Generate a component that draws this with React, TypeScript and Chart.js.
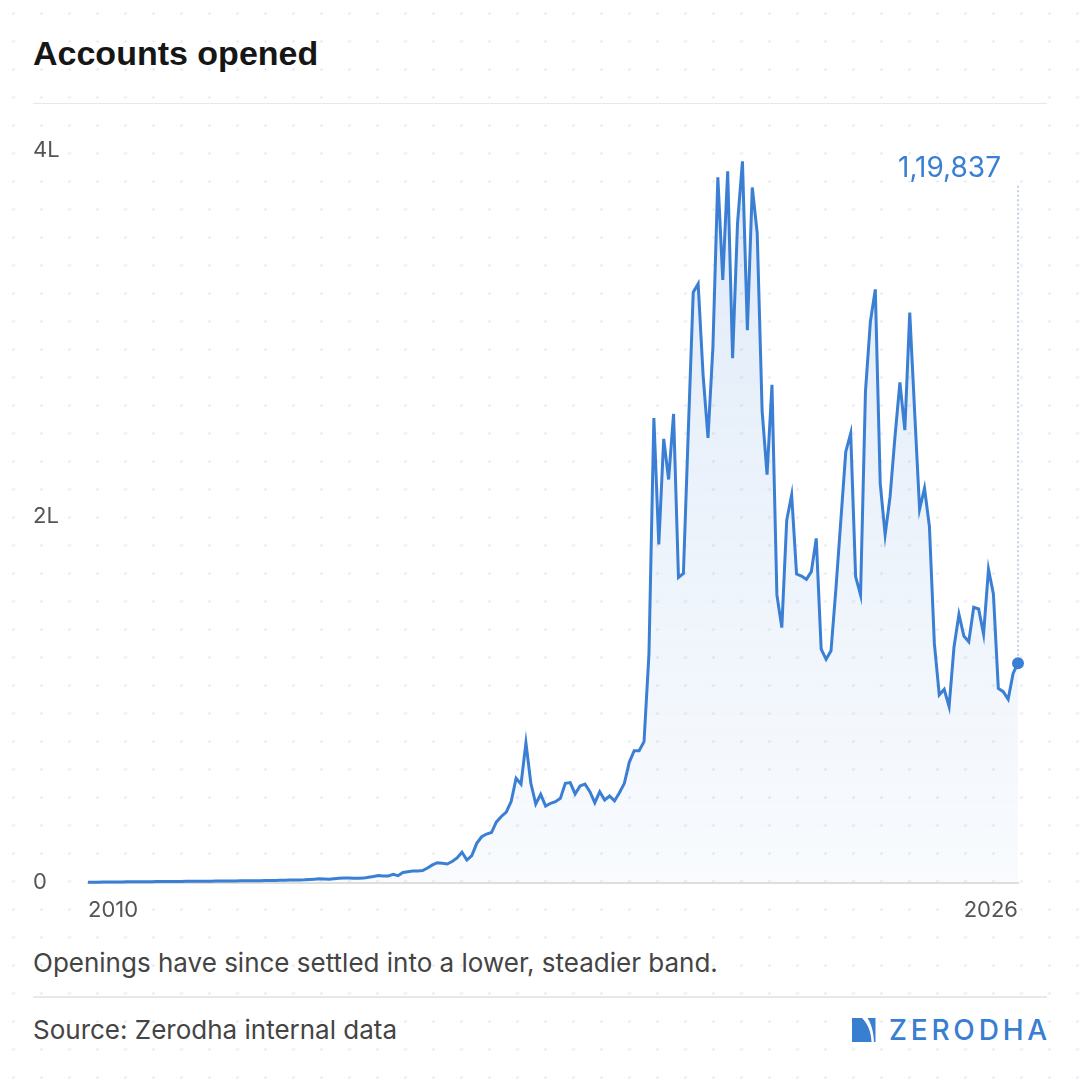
import React, { useEffect, useRef } from 'react';
import { Chart, registerables } from 'chart.js';

Chart.register(...registerables);

// Monthly accounts opened, Jan 2010 onwards
const accountsOpened: number[] = [
  150, 180, 200, 230, 260, 280, 300, 330, 350, 380,
  400, 420, 450, 470, 500, 520, 540, 560, 590, 610,
  640, 660, 680, 700, 720, 750, 770, 800, 830, 850,
  880, 900, 930, 960, 990, 1020, 1060, 1100, 1150, 1200,
  1250, 1300, 1350, 1400, 1450, 1600, 1800, 2050, 1900, 1750,
  2000, 2300, 2450, 2400, 2350, 2300, 2400, 2900, 3300, 3800,
  3600, 3500, 4500, 3700, 5500, 5900, 6300, 6300, 6500, 7900,
  9600, 10800, 10500, 10100, 11500, 13400, 16500, 12300, 14700, 21400,
  25000, 26500, 27300, 33100, 36100, 38500, 44300, 57000, 53800, 76400,
  54200, 42900, 48200, 41800, 43300, 44200, 46000, 54200, 54600, 48400,
  52800, 53800, 49600, 43600, 49600, 45100, 47300, 44600, 49100, 54200,
  65700, 72000, 72000, 77000, 124800, 253900, 184800, 242500, 220300, 256100,
  166700, 168900, 247000, 322600, 327200, 277500, 243000, 292700, 385400, 329300,
  388700, 286600, 360300, 394200, 301900, 379900, 354900, 257800, 222900, 272000,
  157200, 139300, 198100, 211800, 168600, 167500, 165700, 169900, 188100, 127500,
  122000, 126700, 160800, 198100, 235500, 245500, 167200, 157100, 268300, 306500,
  324200, 218200, 190000, 210900, 243700, 273400, 247300, 311500, 257000, 204000,
  215500, 194500, 130700, 102500, 105600, 96100, 128900, 146600, 134700, 131600,
  150400, 149500, 135800, 171200, 157700, 106100, 104300, 100100, 114300, 119837,
];

const xTickLabels = ['2010', '2026'];
const yTickValues = [0, 200000, 400000];
const yTickLabels = ['0', '2L', '4L'];
const lastValueLabel = '1,19,837';

const BLUE = '#3a7fd4';

export default function App() {
  const canvasRef = useRef<HTMLCanvasElement>(null);

  useEffect(() => {
    document.body.style.margin = '0';
    const canvas = canvasRef.current;
    if (!canvas) return;
    const lastIdx = accountsOpened.length - 1;

    const markerPlugin = {
      id: 'lastMarker',
      beforeDatasetsDraw(chart: any) {
        const pt = chart.getDatasetMeta(0).data[lastIdx];
        if (!pt) return;
        const ctx = chart.ctx;
        ctx.save();
        ctx.strokeStyle = '#a8c3e8';
        ctx.lineWidth = 1.5;
        ctx.setLineDash([2, 2.5]);
        ctx.beginPath();
        ctx.moveTo(pt.x, chart.chartArea.top + 35);
        ctx.lineTo(pt.x, pt.y);
        ctx.stroke();
        ctx.restore();
      },
      afterDatasetsDraw(chart: any) {
        const pt = chart.getDatasetMeta(0).data[lastIdx];
        if (!pt) return;
        const ctx = chart.ctx;
        ctx.save();
        ctx.fillStyle = BLUE;
        ctx.font = '28px Inter';
        ctx.textAlign = 'right';
        ctx.textBaseline = 'alphabetic';
        ctx.fillText(lastValueLabel, pt.x - 17, chart.chartArea.top + 26);
        ctx.restore();
      },
    };

    const chart = new Chart(canvas, {
      type: 'line',
      data: {
        datasets: [
          {
            data: accountsOpened.map((v, i) => ({ x: i, y: v })),
            borderColor: BLUE,
            borderWidth: 3,
            tension: 0,
            fill: 'origin',
            clip: false as any,
            backgroundColor: (c: any) => {
              const area = c.chart.chartArea;
              if (!area) return 'rgba(58,128,214,0.08)';
              const g = c.chart.ctx.createLinearGradient(0, area.top, 0, area.bottom);
              g.addColorStop(0, 'rgba(58,128,214,0.16)');
              g.addColorStop(1, 'rgba(58,128,214,0.03)');
              return g;
            },
            pointRadius: (c: any) => (c.dataIndex === lastIdx ? 6 : 0),
            pointBackgroundColor: BLUE,
            pointBorderWidth: 0,
            pointHoverRadius: 0,
          },
        ],
      },
      options: {
        animation: false,
        responsive: false,
        maintainAspectRatio: false,
        events: [],
        layout: { padding: { left: 33, right: 62, top: 30.7, bottom: 7.5 } },
        plugins: {
          legend: { display: false },
          tooltip: { enabled: false },
        },
        scales: {
          x: {
            type: 'linear',
            min: 0,
            max: lastIdx,
            afterBuildTicks: (axis: any) => {
              axis.ticks = [{ value: 0 }, { value: lastIdx }];
            },
            afterFit: (axis: any) => {
              axis.height = 50;
            },
            grid: { display: false, drawTicks: false },
            border: { display: true, color: '#dedede', width: 2 },
            ticks: {
              align: 'inner',
              autoSkip: false,
              maxRotation: 0,
              padding: 15,
              color: '#555555',
              font: { family: 'Inter', size: 22 },
              callback: (_v: any, i: number) => xTickLabels[i],
            },
          },
          y: {
            min: 0,
            max: 400000,
            afterBuildTicks: (axis: any) => {
              axis.ticks = yTickValues.map((v) => ({ value: v }));
            },
            afterFit: (axis: any) => {
              axis.width = 55;
            },
            grid: { display: false, drawTicks: false },
            border: { display: false },
            ticks: {
              crossAlign: 'far',
              padding: 0,
              color: '#555555',
              font: { family: 'Inter', size: 22 },
              callback: (_v: any, i: number) => yTickLabels[i],
            },
          },
        },
      } as any,
      plugins: [markerPlugin],
    });

    return () => chart.destroy();
  }, []);

  const text: React.CSSProperties = { position: 'absolute', margin: 0, lineHeight: 1, whiteSpace: 'nowrap' };

  return (
    <div
      style={{
        position: 'relative',
        width: 1080,
        height: 1080,
        overflow: 'hidden',
        background: '#ffffff',
        backgroundImage: 'radial-gradient(circle, #e6e9f0 1.1px, transparent 1.7px)',
        backgroundSize: '28px 28px',
        backgroundPosition: '-0.5px -0.5px',
        fontFamily: 'Inter, sans-serif',
      }}
    >
      <div style={{ ...text, left: 33, top: 36, fontFamily: '"Liberation Sans", Arial, sans-serif', fontWeight: 700, fontSize: 34, color: '#161616' }}>
        Accounts opened
      </div>
      <div style={{ position: 'absolute', left: 33, top: 102.5, width: 1014, height: 1.5, background: '#e8e8e8' }} />
      <canvas
        ref={canvasRef}
        width={1080}
        height={820}
        style={{ position: 'absolute', left: 0, top: 120, width: 1080, height: 820 }}
      />
      <div style={{ ...text, left: 33, top: 949.5, fontSize: 26, color: '#444444' }}>
        Openings have since settled into a lower, steadier band.
      </div>
      <div style={{ position: 'absolute', left: 33, top: 996, width: 1014, height: 1.5, background: '#e8e8e8' }} />
      <div style={{ ...text, left: 33, top: 1016.5, fontSize: 26, color: '#444444' }}>
        Source: Zerodha internal data
      </div>
      <svg
        width="24"
        height="24"
        viewBox="0 0 24 24"
        style={{ position: 'absolute', left: 852, top: 1018 }}
      >
        <path d="M0 0 H10 C15 5 19 12 19.5 24 H0 Z" fill="#387ed1" />
        <path d="M15.5 0 H23.5 V24 H22 C21.5 13 19 5 15.5 0 Z" fill="#387ed1" />
      </svg>
      <div style={{ ...text, left: 889, top: 1016, fontSize: 28, fontWeight: 500, letterSpacing: 3.8, color: '#387ed1' }}>
        ZERODHA
      </div>
    </div>
  );
}
